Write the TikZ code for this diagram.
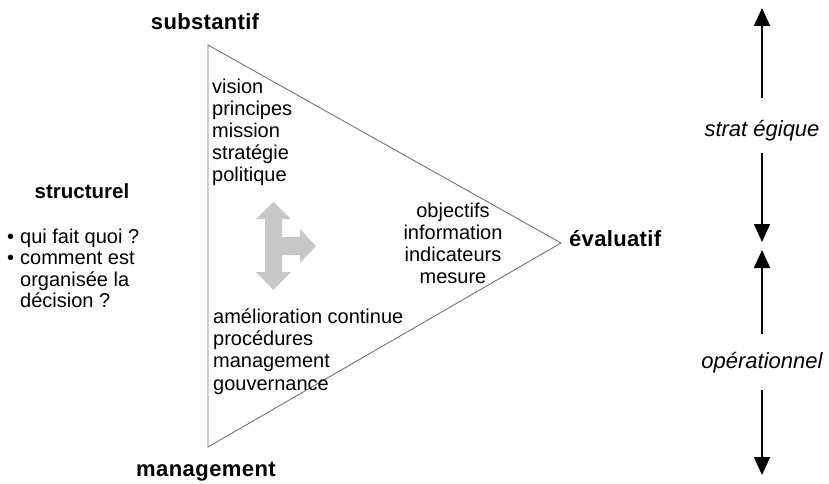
\documentclass[tikz,border=0pt]{standalone}
\usepackage{fontspec}
\setmainfont{Liberation Sans}
\usetikzlibrary{arrows.meta}
\begin{document}
\begin{tikzpicture}[x=1pt,y=-1pt,
  listtxt/.style={inner sep=0pt, font=\fontsize{20}{22.2}\selectfont},
  boldlbl/.style={inner sep=0pt, font=\fontsize{22}{24}\selectfont\bfseries},
  sidelbl/.style={inner sep=0pt, text height=16pt, text depth=5pt, font=\fontsize{22}{24}\selectfont\itshape},
  bigarrow/.style={line width=1.8pt, -{Triangle[width=16pt,length=18pt]}},
  tri/.style={draw=black!55, line width=0.9pt},
  greyarrow/.style={fill=black!22, draw=none}
]
\useasboundingbox (0,0) rectangle (829,484);

% triangle
\coordinate (A) at (208,45);
\coordinate (B) at (208,447);
\coordinate (C) at (561,243);
\draw[tri] (A) -- (C) -- (B) -- cycle;

% corner labels
\node[boldlbl, anchor=base] (subst) at (205,30) {\addfontfeature{LetterSpace=1.5}substantif};
\node[boldlbl, anchor=base] (mgmt) at (206,476) {\addfontfeature{LetterSpace=2}management};
\node[boldlbl, anchor=base west] (eval) at (569,246) {\addfontfeature{LetterSpace=1.5}évaluatif};
\node[boldlbl, anchor=base, font=\fontsize{20.5}{24}\selectfont\bfseries] (struct) at (82,198) {structurel};

% bullets
\node[inner sep=0pt, anchor=north west, font=\fontsize{20}{21.5}\selectfont] (bul) at (7,228)
  {\begin{tabular}{@{}l@{\hspace{6pt}}l@{}}
   •& qui fait quoi ?\\
   •& comment est\\
    & organisée la\\
    & décision ?
   \end{tabular}};

% lists inside triangle
\node[listtxt, anchor=north west, align=left] (top) at (212,78.5)
  {vision\\principes\\mission\\stratégie\\politique};
\node[listtxt, anchor=north, align=center] (mid) at (453,202.5)
  {objectifs\\information\\indicateurs\\mesure};
\node[listtxt, anchor=north west, align=left] (bot) at (213,308.5)
  {amélioration continue\\procédures\\management\\gouvernance};

% grey T-arrow
\fill[greyarrow] (273.5,202) -- (291,219) -- (282,219) -- (282,237) -- (300,237)
  -- (300,229) -- (316,246) -- (300,263) -- (300,255) -- (282,255) -- (282,272)
  -- (291,272) -- (273.5,290) -- (256,272) -- (265,272) -- (265,219) -- (256,219) -- cycle;

% right side
\node[sidelbl, anchor=base] (strat) at (762,136) {strat égique};
\node[sidelbl, anchor=base] (oper) at (762,368) {opérationnel};
\coordinate (t1) at (762,8);
\coordinate (b1) at (762,242);
\coordinate (t2) at (762,250);
\coordinate (b2) at (762,475);
\draw[bigarrow, shorten <=22pt] (strat.north) -- (t1);
\draw[bigarrow, shorten <=12pt] (strat.south) -- (b1);
\draw[bigarrow, shorten <=18pt] (oper.north) -- (t2);
\draw[bigarrow, shorten <=17pt] (oper.south) -- (b2);
\end{tikzpicture}
\end{document}
